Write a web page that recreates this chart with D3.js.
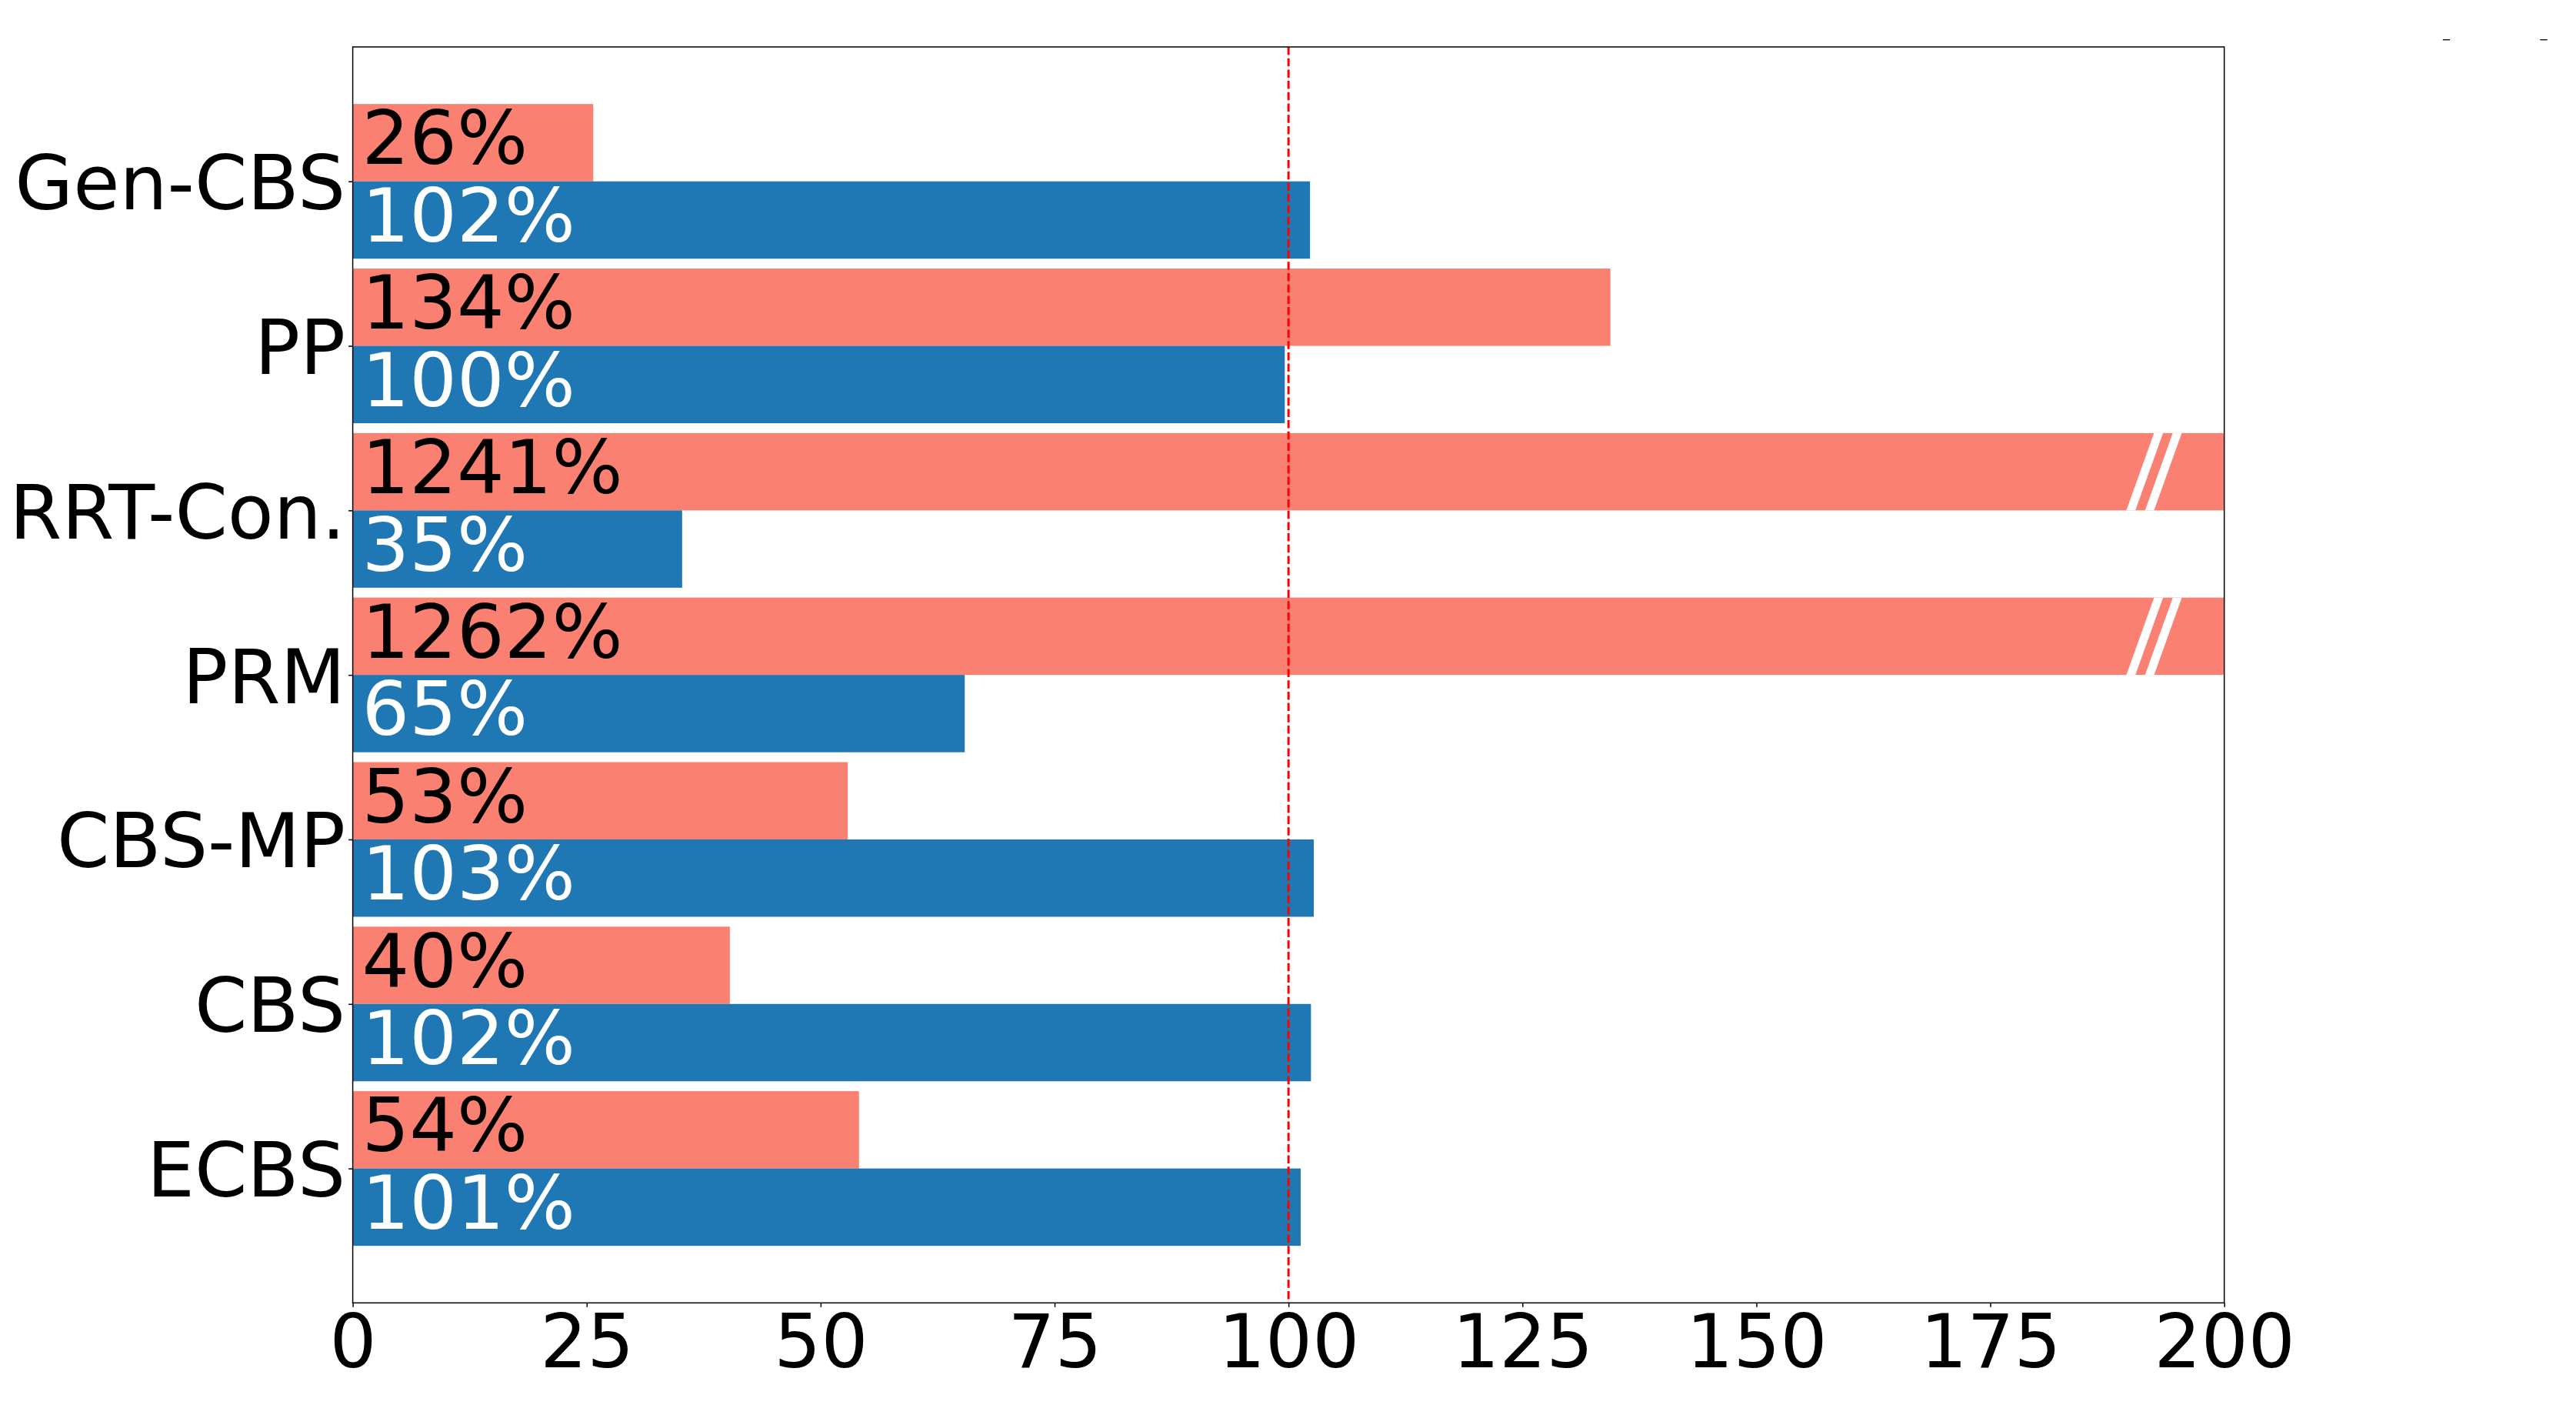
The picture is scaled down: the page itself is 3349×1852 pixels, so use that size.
<!DOCTYPE html>
<html>
<head>
<meta charset="utf-8">
<script src="https://cdn.jsdelivr.net/npm/d3@7"></script>
<style>
  body { margin: 0; background: #fff; }
  text { font-family: "DejaVu Sans", sans-serif; }
</style>
</head>
<body>
<div id="chart"></div>
<script>
// categories, bottom to top as matplotlib draws them
const methods = ["ECBS", "CBS", "CBS-MP", "PRM", "RRT-Con.", "PP", "Gen-CBS"];
// upper (salmon) bars, percent
const upperValues = [54.1, 40.3, 52.9, 1262, 1241, 134.4, 25.7];
const upperLabels = ["54%", "40%", "53%", "1262%", "1241%", "134%", "26%"];
// lower (blue) bars, percent
const lowerValues = [101.3, 102.4, 102.7, 65.4, 35.2, 99.6, 102.3];
const lowerLabels = ["101%", "102%", "103%", "65%", "35%", "100%", "102%"];
const xTicks = [0, 25, 50, 75, 100, 125, 150, 175, 200];

const W = 3349, H = 1852;
const margin = { left: 458.6, right: W - 2891.7, top: 61, bottom: H - 1693.3 };
const salmon = "#fa8072";
const blue = "#1f77b4";
const barH = 0.47;
const xMax = 200;
const fontSize = 96;
const barFont = 97;
const catFont = 98;

const svg = d3.select("#chart").append("svg")
    .attr("width", W)
    .attr("height", H);

const x = d3.scaleLinear()
    .domain([0, xMax])
    .range([margin.left, W - margin.right]);

// 5% margin around bar extents, like matplotlib autoscale
const yLo = -barH, yHi = methods.length - 1 + barH;
const pad = (yHi - yLo) * 0.05;
const y = d3.scaleLinear()
    .domain([yLo - pad, yHi + pad])
    .range([H - margin.bottom, margin.top]);

const rows = methods.map((m, i) => ({
    m, i,
    up: upperValues[i], upLab: upperLabels[i],
    lo: lowerValues[i], loLab: lowerLabels[i]
}));

// upper bars (clipped at the axis limit)
svg.append("g").selectAll("rect")
    .data(rows)
    .join("rect")
    .attr("x", x(0))
    .attr("y", d => y(d.i + barH))
    .attr("width", d => x(Math.min(d.up, xMax)) - x(0))
    .attr("height", y(0) - y(barH))
    .attr("fill", salmon);

// lower bars
svg.append("g").selectAll("rect")
    .data(rows)
    .join("rect")
    .attr("x", x(0))
    .attr("y", d => y(d.i))
    .attr("width", d => x(Math.min(d.lo, xMax)) - x(0))
    .attr("height", y(0) - y(barH))
    .attr("fill", blue);

// break marks "//" on bars that run past the limit
const breakAt = [191.5, 193.5];
const slant = 1.48, stripe = 0.96;
const broken = rows.filter(d => d.up > xMax);
broken.forEach(d => {
    const top = y(d.i + barH), bot = y(d.i);
    breakAt.forEach(b => {
        const pts = [
            [x(b + slant - stripe / 2), top],
            [x(b + slant + stripe / 2), top],
            [x(b - slant + stripe / 2), bot],
            [x(b - slant - stripe / 2), bot]
        ];
        svg.append("polygon")
            .attr("points", pts.map(p => p.join(",")).join(" "))
            .attr("fill", "#fff");
    });
});

// value labels inside bars
svg.append("g").selectAll("text")
    .data(rows)
    .join("text")
    .attr("x", x(0) + 12)
    .attr("y", d => y(d.i + barH / 2) + 28)
    .attr("font-size", barFont)
    .attr("fill", "#000")
    .text(d => d.upLab);

svg.append("g").selectAll("text")
    .data(rows)
    .join("text")
    .attr("x", x(0) + 12)
    .attr("y", d => y(d.i - barH / 2) + 28)
    .attr("font-size", barFont)
    .attr("fill", "#fff")
    .text(d => d.loLab);

// reference line at 100%
svg.append("line")
    .attr("x1", x(100)).attr("x2", x(100))
    .attr("y1", margin.top).attr("y2", H - margin.bottom)
    .attr("stroke", "#ff0000")
    .attr("stroke-width", 3)
    .attr("stroke-dasharray", "10.5,4.2");

// frame
svg.append("rect")
    .attr("x", margin.left)
    .attr("y", margin.top)
    .attr("width", W - margin.left - margin.right)
    .attr("height", H - margin.top - margin.bottom)
    .attr("fill", "none")
    .attr("stroke", "#000")
    .attr("stroke-width", 1.5);

// x axis
const xAxis = d3.axisBottom(x)
    .tickValues(xTicks)
    .tickSize(5.5)
    .tickPadding(9)
    .tickFormat(d3.format("d"));

const gx = svg.append("g")
    .attr("transform", `translate(0,${H - margin.bottom})`)
    .call(xAxis);
gx.select(".domain").remove();
gx.selectAll(".tick line").attr("stroke", "#000").attr("stroke-width", 1.5);
gx.selectAll(".tick text")
    .attr("font-size", fontSize)
    .attr("font-family", "DejaVu Sans")
    .attr("fill", "#000")
    .attr("dy", null)
    .attr("dominant-baseline", "auto")
    .attr("y", 83.7);

// y axis with method names
const yAxis = d3.axisLeft(y)
    .tickValues(methods.map((m, i) => i))
    .tickSize(5.5)
    .tickPadding(4)
    .tickFormat(i => methods[i]);

const gy = svg.append("g")
    .attr("transform", `translate(${margin.left},0)`)
    .call(yAxis);
gy.select(".domain").remove();
gy.selectAll(".tick line").attr("stroke", "#000").attr("stroke-width", 1.5);
gy.selectAll(".tick text")
    .attr("font-size", catFont)
    .attr("font-family", "DejaVu Sans")
    .attr("fill", "#000")
    .attr("dy", null)
    .attr("dominant-baseline", "auto")
    .attr("y", 36);

// two stray legend dashes in the top-right corner
const strayDashes = [3180.5, 3307];
svg.append("g").selectAll("line")
    .data(strayDashes)
    .join("line")
    .attr("x1", d => d - 4.7).attr("x2", d => d + 4.7)
    .attr("y1", 51.7).attr("y2", 51.7)
    .attr("stroke", "#000")
    .attr("stroke-width", 1.3);
</script>
</body>
</html>
